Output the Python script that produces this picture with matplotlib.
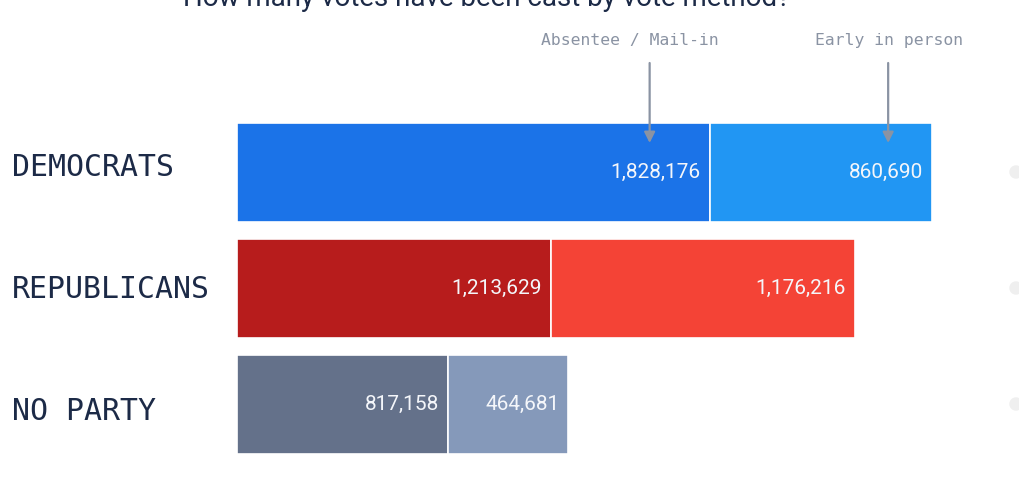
import matplotlib
matplotlib.use("Agg")
import matplotlib.pyplot as plt
from matplotlib.patches import Circle

# ---- data ----
categories = ["DEMOCRATS", "REPUBLICANS", "NO PARTY"]
absentee = [1828176, 1213629, 817158]
early = [860690, 1176216, 464681]
abs_colors = ["#1B73E8", "#B71C1C", "#64718A"]
early_colors = ["#2196F3", "#F44336", "#8599BA"]
title = "How many votes have been cast by vote method?"
method_labels = ["Absentee / Mail-in", "Early in person"]

W, H = 1019, 479
DPI = 100
fig = plt.figure(figsize=(W / DPI, H / DPI), dpi=DPI)
fig.patch.set_facecolor("white")

left_px, right_px = 237, 1000
scale = 3868.0  # votes per pixel
ax = fig.add_axes([left_px / W, 0, (right_px - left_px) / W, 1])
ax.set_xlim(0, (right_px - left_px) * scale)
spacing = 116.0
y0 = 172.0
ax.set_ylim((H - y0) / spacing, -y0 / spacing)
ax.axis("off")

def px_y(p):
    return (p - y0) / spacing

ys = list(range(len(categories)))
bh = 99 / spacing
ax.barh(ys, absentee, height=bh, color=abs_colors, edgecolor="white", linewidth=1.2)
ax.barh(ys, early, left=absentee, height=bh, color=early_colors, edgecolor="white", linewidth=1.2)

vfont = dict(family=["Roboto", "DejaVu Sans"], size=15, color="#F4F6FA")
for i in ys:
    ax.annotate(f"{absentee[i]:,}", xy=(absentee[i], i), xytext=(-6.5, 0),
                textcoords="offset points", ha="right", va="center", **vfont)
    tot = absentee[i] + early[i]
    ax.annotate(f"{early[i]:,}", xy=(tot, i), xytext=(-6.5, 0),
                textcoords="offset points", ha="right", va="center", **vfont)

# category labels
for i, c in enumerate(categories):
    yp = 167 + 122.5 * i
    fig.text(12 / W, 1 - yp / H, c, ha="left", va="center",
             family="DejaVu Sans Mono", fontsize=21.5, color="#1C2A47")

# method annotations
gray = "#8A93A3"
arrow_x = [absentee[0] - 60 * scale, absentee[0] + early[0] - 44 * scale]
text_x = [(630 - left_px) * scale, (889 - left_px) * scale]
for lab, ax_x, tx in zip(method_labels, arrow_x, text_x):
    ax.text(tx, px_y(41), lab, ha="center", va="center", family="DejaVu Sans Mono",
            fontsize=11.8, color=gray)
    ax.annotate("", xy=(ax_x, px_y(143)), xytext=(ax_x, px_y(63)),
                arrowprops=dict(arrowstyle="-|>", color=gray, lw=1.6,
                                mutation_scale=16, shrinkA=0, shrinkB=0))

# title (partially cut off at top, as in the reference)
fig.text(487 / W, 1 - 6 / H, title, ha="center", va="baseline",
         family=["Roboto", "DejaVu Sans"], fontsize=20, color="#1C2A47")

# faint edge circles
for i in ys:
    yp = ax.transData.transform((0, i))[1]
    fig.patches.append(Circle((1016, yp), 6, transform=None, color="#EFEFEF", zorder=0))

fig.savefig("out.png", dpi=DPI)
